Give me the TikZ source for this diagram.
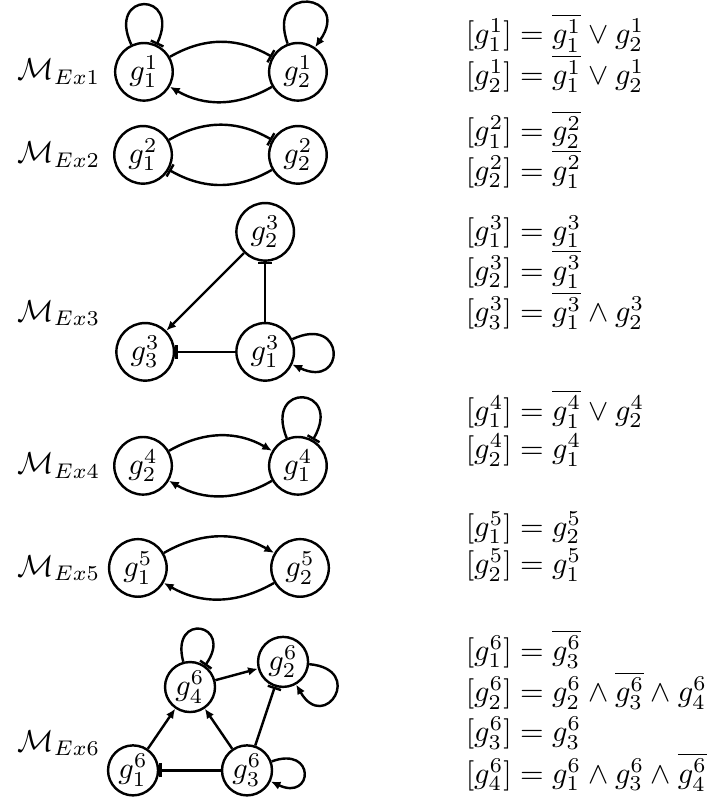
\documentclass[tikz,border=0pt]{standalone}
\usepackage{amsmath,amssymb}
\usepackage{tikz}
\usetikzlibrary{arrows.meta,positioning}

\begin{document}
\begin{tikzpicture}[
    gene/.style={circle, draw=black, thick, minimum size=19pt, inner sep=0pt},
    small/.style={minimum size=16.5pt},
    act/.style={-{Latex[length=3.2pt, width=2.8pt]}, thick},
    inh/.style={-{Bar[width=4.6pt]}, thick},
    every loop/.style={looseness=6},
    model/.style={anchor=west, inner sep=0pt},
    rule/.style={anchor=base west, inner sep=0pt},
]
\useasboundingbox (0,0) rectangle (234.3pt,264.3pt);

% Example 1
\node[model] (m1) at (5.6pt,240.6pt) {$\mathcal{M}_{Ex1}$};
\node[gene] (g11) at (47.5pt,240.6pt) {$g_1^1$};
\node[gene, on grid, right=50.8pt of g11] (g21) {$g_2^1$};
\draw[inh] (g11) to[bend left=30] (g21);
\draw[act] (g21) to[bend left=30] (g11);
\draw[inh] (g11) to[out=115, in=65, loop] (g11);
\draw[act] (g21) to[out=110, in=55, loop] (g21);

% Example 2
\node[model] (m2) at (5.6pt,213.2pt) {$\mathcal{M}_{Ex2}$};
\node[gene] (g12) at (47.2pt,213.2pt) {$g_1^2$};
\node[gene, on grid, right=51.1pt of g12] (g22) {$g_2^2$};
\draw[inh] (g12) to[bend left=30] (g22);
\draw[inh] (g22) to[bend left=30] (g12);

% Example 3
\node[model] (m3) at (5.6pt,161pt) {$\mathcal{M}_{Ex3}$};
\node[gene] (g33) at (47.9pt,148.2pt) {$g_3^3$};
\node[gene, on grid, right=39.6pt of g33] (g13) {$g_1^3$};
\node[gene, on grid, above=39.6pt of g13] (g23) {$g_2^3$};
\draw[act] (g23) -- (g33);
\draw[inh] (g13) -- (g23);
\draw[inh] (g13) -- (g33);
\draw[act] (g13) to[out=25, in=-25, loop] (g13);

% Example 4
\node[model] (m4) at (5.6pt,110.6pt) {$\mathcal{M}_{Ex4}$};
\node[gene] (g24) at (47.2pt,110.6pt) {$g_2^4$};
\node[gene, on grid, right=51.1pt of g24] (g14) {$g_1^4$};
\draw[act] (g24) to[bend left=30] (g14);
\draw[act] (g14) to[bend left=30] (g24);
\draw[inh] (g14) to[out=112, in=60, loop] (g14);

% Example 5
\node[model] (m5) at (5.6pt,76.9pt) {$\mathcal{M}_{Ex5}$};
\node[gene] (g15) at (45.5pt,76.9pt) {$g_1^5$};
\node[gene, on grid, right=53.5pt of g15] (g25) {$g_2^5$};
\draw[act] (g15) to[bend left=30] (g25);
\draw[act] (g25) to[bend left=30] (g15);

% Example 6
\node[model] (m6) at (5.6pt,19.1pt) {$\mathcal{M}_{Ex6}$};
\node[gene, small] (g46) at (62.7pt,37.6pt) {$g_4^6$};
\node[gene, small] (g26) at (93.4pt,45.9pt) {$g_2^6$};
\node[gene, small] (g16) at (43.9pt,10.1pt) {$g_1^6$};
\node[gene, small] (g36) at (81.5pt,10.1pt) {$g_3^6$};
\draw[act] (g16) -- (g46);
\draw[act] (g36) -- (g46);
\draw[act] (g46) -- (g26);
\draw[inh] (g36) -- (g26);
\draw[inh] (g36) -- (g16);
\draw[inh] (g46) to[out=105, in=55, loop] (g46);
\draw[act] (g26) to[out=-5, in=-60, loop] (g26);
\draw[act] (g36) to[out=20, in=-25, loop] (g36);

% Update rules
\node[rule] (eq11) at (153.5pt,249.8pt) {$[g_1^1] = \overline{g_1^1} \vee g_2^1$};
\node[rule] (eq21) at (153.5pt,236.3pt) {$[g_2^1] = \overline{g_1^1} \vee g_2^1$};
\node[rule] (eq12) at (153.5pt,217.8pt) {$[g_1^2] = \overline{g_2^2}$};
\node[rule] (eq22) at (153.5pt,204.9pt) {$[g_2^2] = \overline{g_1^2}$};
\node[rule] (eq13) at (153.5pt,185.1pt) {$[g_1^3] = g_1^3$};
\node[rule] (eq23) at (153.5pt,171.9pt) {$[g_2^3] = \overline{g_1^3}$};
\node[rule] (eq33) at (153.5pt,158.1pt) {$[g_3^3] = \overline{g_1^3} \wedge g_2^3$};
\node[rule] (eq14) at (153.5pt,125.7pt) {$[g_1^4] = \overline{g_1^4} \vee g_2^4$};
\node[rule] (eq24) at (153.5pt,112.9pt) {$[g_2^4] = g_1^4$};
\node[rule] (eq15) at (153.5pt,87.4pt) {$[g_1^5] = g_2^5$};
\node[rule] (eq25) at (153.5pt,74.9pt) {$[g_2^5] = g_1^5$};
\node[rule] (eq16) at (153.5pt,46.5pt) {$[g_1^6] = \overline{g_3^6}$};
\node[rule] (eq26) at (153.5pt,32.7pt) {$[g_2^6] = g_2^6 \wedge \overline{g_3^6} \wedge g_4^6$};
\node[rule] (eq36) at (153.5pt,19.5pt) {$[g_3^6] = g_3^6$};
\node[rule] (eq46) at (153.5pt,5.9pt) {$[g_4^6] = g_1^6 \wedge g_3^6 \wedge \overline{g_4^6}$};

\end{tikzpicture}
\end{document}
